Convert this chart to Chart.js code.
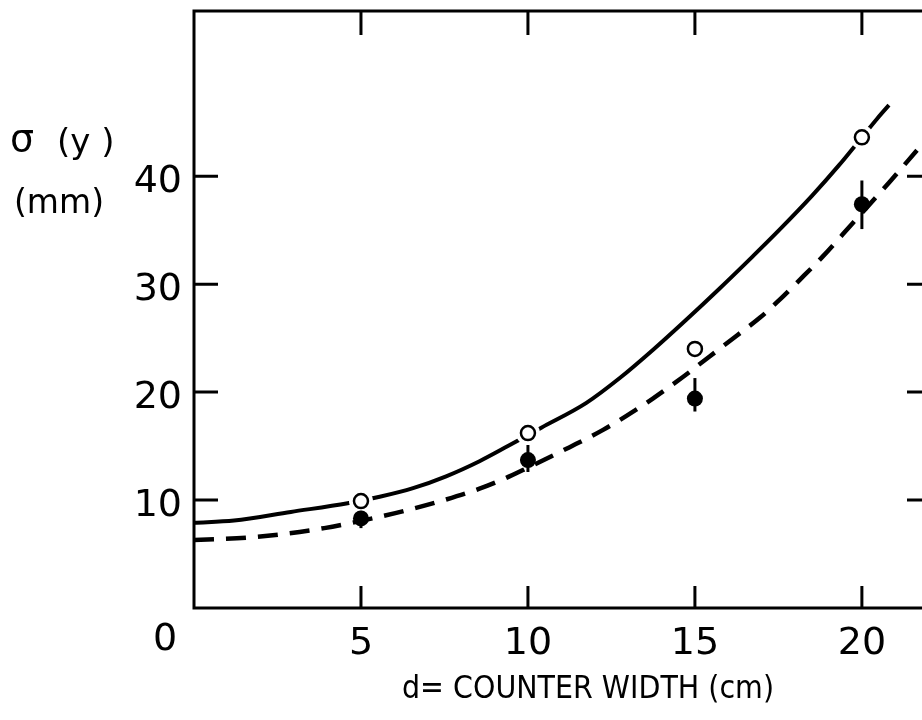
<!DOCTYPE html>
<html>
<head>
<meta charset="utf-8">
<script src="https://cdn.jsdelivr.net/npm/chart.js@4.4.1/dist/chart.umd.min.js"></script>
<style>
  html, body { margin: 0; padding: 0; background: #fff; }
  #wrap { width: 922px; height: 720px; }
</style>
</head>
<body>
<div id="wrap"><canvas id="chart" width="922" height="720"></canvas></div>
<script>
// tick values
const xTickValues = [0, 5, 10, 15, 20];
const yTickValues = [10, 20, 30, 40];

// measured points (counter width d in cm)
const pointX = [5, 10, 15, 20];
const openY = [9.9, 16.2, 24.0, 43.6];
const filledY = [8.3, 13.7, 19.4, 37.4];
const filledHigh = [9.0, 15.1, 21.3, 39.6];
const filledLow = [7.4, 12.6, 18.2, 35.1];

// solid curve (the last part past d=20 is dashed)
const solidX = [0, 1.2, 2.9, 4.6, 5.56, 6.56, 7.55, 8.55, 9.4, 10.4, 11.75, 12.75, 13.74, 14.74, 15.74, 16.74, 17.52, 18.51, 19.31, 20.0, 20.45, 20.96];
const solidY = [7.9, 8.1, 8.9, 9.7, 10.3, 11.1, 12.2, 13.6, 15.0, 16.7, 19.0, 21.3, 23.9, 26.7, 29.6, 32.6, 35.0, 38.2, 41.0, 43.6, 45.3, 47.1];

// dashed curve
const dashX = [0, 1.9, 3.9, 5.56, 6.56, 7.55, 8.55, 9.35, 10.0, 11.25, 12.25, 12.95, 13.74, 14.64, 15.44, 16.24, 16.95, 17.45, 18.14, 18.81, 19.71, 20.81, 21.65];
const dashY = [6.3, 6.6, 7.4, 8.45, 9.2, 10.05, 11.05, 12.05, 13.0, 14.9, 16.5, 17.8, 19.4, 21.4, 23.3, 25.2, 26.9, 28.3, 30.4, 32.5, 35.6, 39.4, 42.4];

const FONT = "'DejaVu Sans', sans-serif";

function toXY(xs, ys) {
  return xs.map((x, i) => ({ x: x, y: ys[i] }));
}

function noPadding(s) {
  s.paddingTop = 0;
  s.paddingBottom = 0;
  s.paddingLeft = 0;
  s.paddingRight = 0;
}

const framePlugin = {
  id: "frame",
  afterDatasetsDraw(chart) {
    const ctx = chart.ctx;
    const a = chart.chartArea;
    const xs = chart.scales.x;
    const ys = chart.scales.y;
    ctx.save();
    ctx.strokeStyle = "#000";
    ctx.lineCap = "butt";

    // error bars on the filled points
    ctx.lineWidth = 3;
    pointX.forEach((x, i) => {
      const px = xs.getPixelForValue(x);
      ctx.beginPath();
      ctx.moveTo(px, ys.getPixelForValue(filledHigh[i]));
      ctx.lineTo(px, ys.getPixelForValue(filledLow[i]));
      ctx.stroke();
    });

    // frame (right side lies just off the picture)
    ctx.lineWidth = 3;
    ctx.beginPath();
    ctx.moveTo(a.right + 10, a.top);
    ctx.lineTo(a.left, a.top);
    ctx.lineTo(a.left, a.bottom);
    ctx.lineTo(a.right + 10, a.bottom);
    ctx.stroke();

    // inward ticks
    xTickValues.forEach((v) => {
      if (v === 0) return;
      const px = xs.getPixelForValue(v);
      ctx.beginPath();
      ctx.moveTo(px, a.bottom);
      ctx.lineTo(px, a.bottom - 22);
      ctx.moveTo(px, a.top);
      ctx.lineTo(px, a.top + 24);
      ctx.stroke();
    });
    yTickValues.forEach((v) => {
      const py = ys.getPixelForValue(v);
      ctx.beginPath();
      ctx.moveTo(a.left, py);
      ctx.lineTo(a.left + 24, py);
      ctx.moveTo(a.right - 15, py);
      ctx.lineTo(a.right, py);
      ctx.stroke();
    });

    // texts
    ctx.fillStyle = "#000";
    ctx.textBaseline = "middle";
    ctx.textAlign = "center";
    ctx.font = "38px " + FONT;
    ctx.fillText("0", xs.getPixelForValue(0) - 29, 640);

    ctx.font = "32px " + FONT;
    ctx.fillText("d= COUNTER WIDTH (cm)", 588, 690, 372);

    ctx.textAlign = "left";
    ctx.font = "38px " + FONT;
    ctx.fillText("\u03c3", 10, 141);
    ctx.font = "34px " + FONT;
    ctx.fillText("(y )", 57, 144);
    ctx.font = "33px " + FONT;
    ctx.fillText("(mm)", 14, 204);
    ctx.restore();
  },
};

new Chart(document.getElementById("chart"), {
  type: "scatter",
  data: {
    datasets: [
      {
        label: "open",
        data: toXY(pointX, openY),
        pointRadius: 7,
        pointBorderWidth: 2.5,
        pointBorderColor: "#000",
        pointBackgroundColor: "#fff",
        showLine: false,
      },
      {
        label: "filled",
        data: toXY(pointX, filledY),
        pointRadius: 8,
        pointBorderWidth: 0,
        pointBackgroundColor: "#000",
        showLine: false,
      },
      {
        label: "halo",
        data: toXY(pointX, openY),
        pointRadius: 12,
        pointBorderWidth: 0,
        pointBackgroundColor: "#fff",
        showLine: false,
      },
      {
        label: "solid",
        data: toXY(solidX, solidY),
        showLine: true,
        pointRadius: 0,
        borderColor: "#000",
        borderWidth: 4,
        cubicInterpolationMode: "monotone",
        segment: {
          borderDash: (c) => (c.p0.parsed.x >= 19.99 ? [42, 12] : undefined),
        },
      },
      {
        label: "dashed",
        data: toXY(dashX, dashY),
        showLine: true,
        pointRadius: 0,
        borderColor: "#000",
        borderWidth: 4.5,
        borderDash: [20, 12],
        cubicInterpolationMode: "monotone",
      },
    ],
  },
  options: {
    responsive: false,
    animation: false,
    layout: { autoPadding: false, padding: { top: 11, left: 0, right: 0, bottom: 0 } },
    plugins: {
      legend: { display: false },
      tooltip: { enabled: false },
    },
    scales: {
      x: {
        type: "linear",
        min: 0,
        max: 21.8,
        afterBuildTicks: (s) => {
          s.ticks = xTickValues.map((v) => ({ value: v }));
        },
        afterFit: (s) => {
          s.height = 112;
          noPadding(s);
        },
        grid: { display: false, drawTicks: false },
        border: { display: false },
        ticks: {
          callback: (v) => (v === 0 ? "" : v),
          font: { family: FONT, size: 38 },
          color: "#000",
          padding: 13,
          maxRotation: 0,
          autoSkip: false,
        },
      },
      y: {
        type: "linear",
        min: 0,
        max: 55.3,
        afterBuildTicks: (s) => {
          s.ticks = yTickValues.map((v) => ({ value: v }));
        },
        afterFit: (s) => {
          s.width = 194;
          noPadding(s);
        },
        grid: { display: false, drawTicks: false },
        border: { display: false },
        ticks: {
          font: { family: FONT, size: 38 },
          color: "#000",
          padding: 12,
          labelOffset: 6,
        },
      },
    },
  },
  plugins: [framePlugin],
});
</script>
</body>
</html>
